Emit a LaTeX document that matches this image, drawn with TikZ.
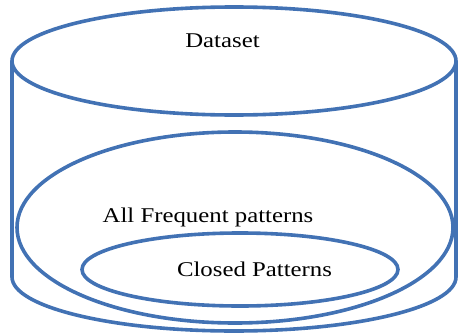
\documentclass[tikz,border=0pt]{standalone}
\usepackage{fontspec}
\setmainfont{Liberation Serif}
\definecolor{outline}{RGB}{66,114,180}
\begin{document}
\begin{tikzpicture}[x=1pt,y=1pt,
  shapeline/.style={draw=outline,line width=3.6pt},
  lbl/.style={anchor=base,inner sep=0pt,font=\fontsize{21}{24}\selectfont}]
\useasboundingbox (0,0) rectangle (460,333);
% cylinder
\draw[shapeline] (234,272) ellipse [x radius=222,y radius=54];
\draw[shapeline] (12,272) -- (12,56) arc[start angle=180,end angle=360,x radius=222,y radius=54] -- (456,272);
% frequent patterns
\draw[shapeline] (235,105.5) ellipse [x radius=218,y radius=95.5];
% closed patterns
\draw[shapeline] (240,63.5) ellipse [x radius=158,y radius=36.5];
\node[lbl] (dataset) at (222.5,286) {\scalebox{1.18}[1]{Dataset}};
\node[lbl] (frequent) at (208,111) {\scalebox{1.18}[1]{All Frequent patterns}};
\node[lbl] (closed) at (254.5,57) {\scalebox{1.18}[1]{Closed Patterns}};
\end{tikzpicture}
\end{document}
